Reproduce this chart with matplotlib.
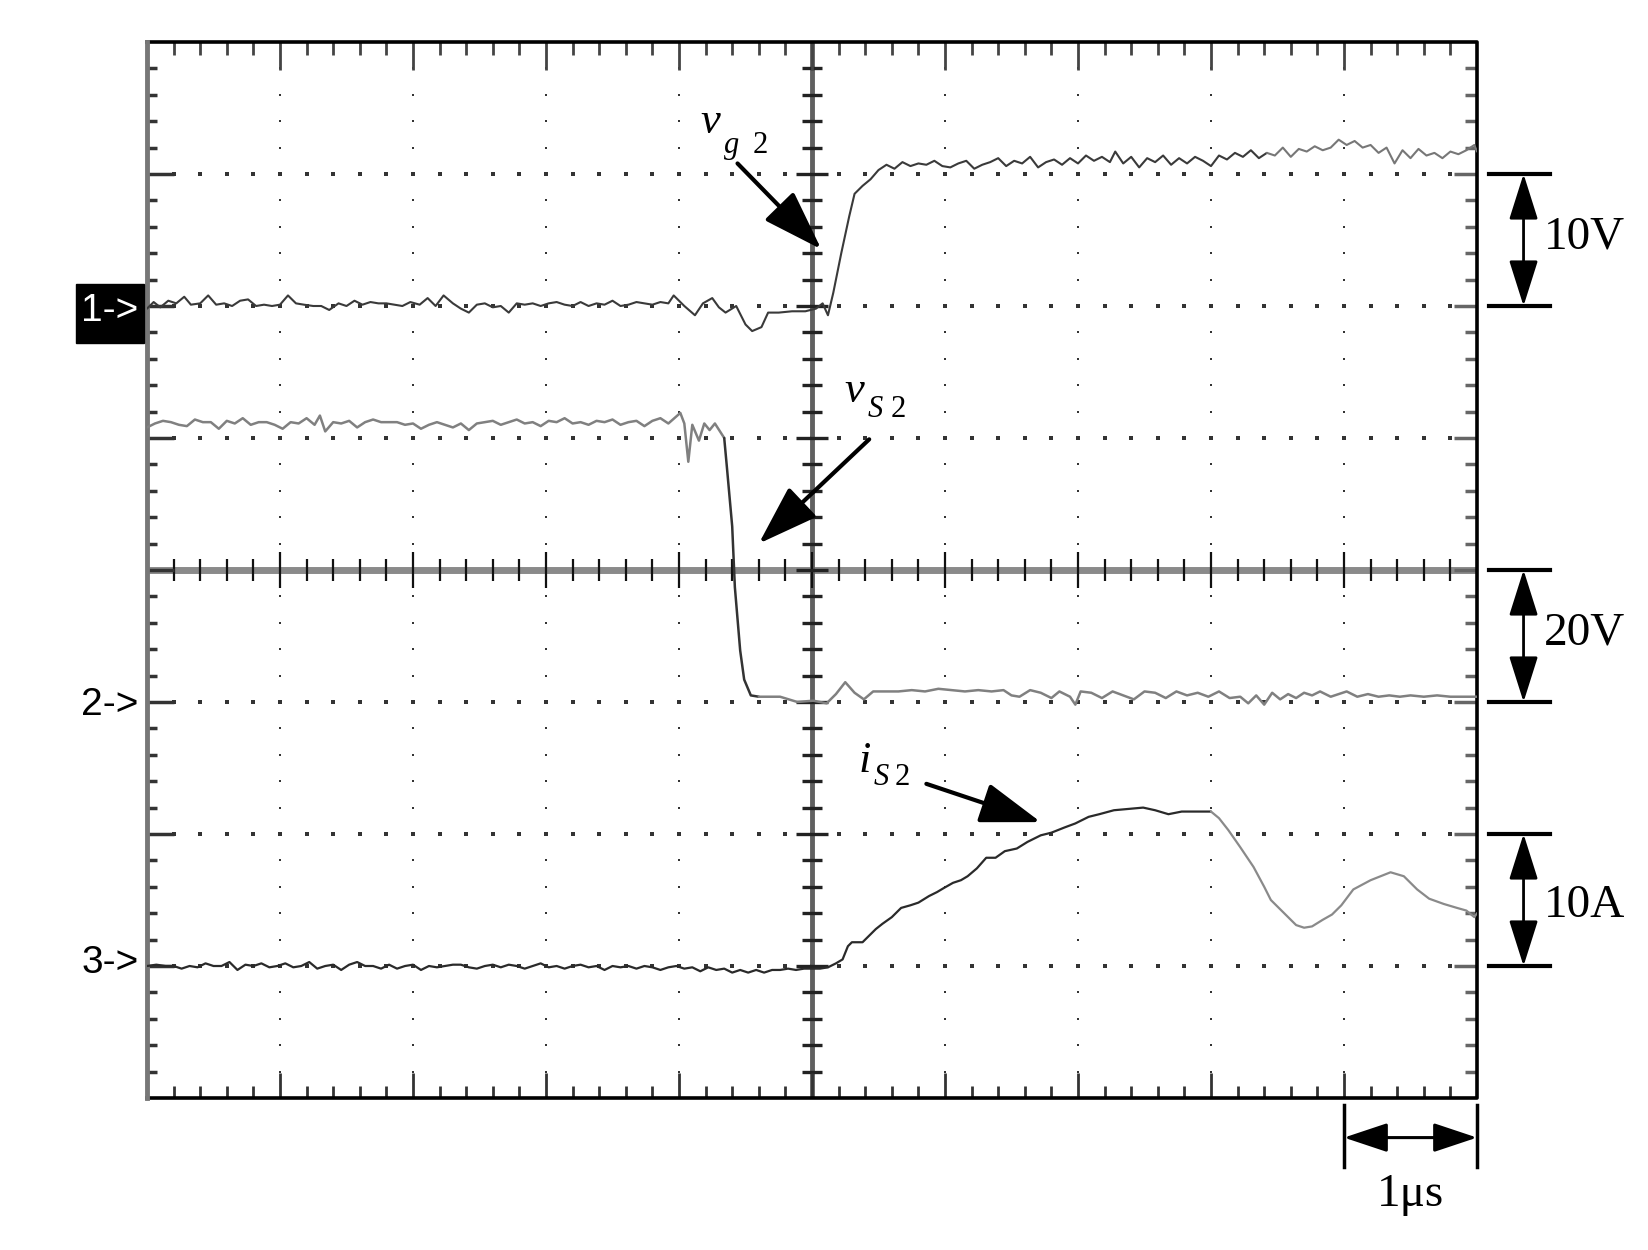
import numpy as np
import matplotlib
matplotlib.use("Agg")
import matplotlib.pyplot as plt
from matplotlib.patches import Rectangle

# scope screen is 10 x 8 divisions, values below are in divisions
# channel 1: gate voltage vg2
vg2_t = [0.00, 0.05, 0.10, 0.16, 0.22, 0.28, 0.33, 0.40, 0.46, 0.52, 0.58, 0.64, 0.70, 0.76, 0.82,
         0.88, 0.94, 1.00, 1.06, 1.12, 1.18, 1.25, 1.31, 1.37, 1.44, 1.50, 1.56, 1.62, 1.68, 1.74,
         1.80, 1.86, 1.92, 1.98, 2.05, 2.11, 2.17, 2.23, 2.30, 2.36, 2.42, 2.48, 2.54, 2.60, 2.66,
         2.72, 2.78, 2.84, 2.90, 2.96, 3.02, 3.08, 3.14, 3.20, 3.26, 3.32, 3.38, 3.44, 3.50, 3.56,
         3.62, 3.68, 3.74, 3.80, 3.86, 3.92, 3.96, 4.04, 4.12, 4.18, 4.25, 4.30, 4.35, 4.43, 4.50,
         4.55, 4.62, 4.67, 4.75, 4.85, 4.95, 5.03, 5.08, 5.12, 5.16, 5.22, 5.28, 5.32, 5.38, 5.44,
         5.50, 5.56, 5.62, 5.68, 5.74, 5.80, 5.86, 5.92, 5.98, 6.04, 6.10, 6.16, 6.22, 6.28, 6.34,
         6.40, 6.46, 6.52, 6.58, 6.64, 6.70, 6.76, 6.82, 6.88, 6.94, 7.00, 7.06, 7.12, 7.18, 7.24,
         7.28, 7.34, 7.40, 7.46, 7.52, 7.58, 7.64, 7.70, 7.76, 7.82, 7.88, 7.94, 8.00, 8.06, 8.12,
         8.18, 8.24, 8.30, 8.36, 8.42, 8.48, 8.54, 8.60, 8.66, 8.72, 8.78, 8.84, 8.90, 8.96, 9.02,
         9.08, 9.14, 9.20, 9.26, 9.32, 9.38, 9.44, 9.50, 9.56, 9.62, 9.68, 9.74, 9.80, 9.86, 9.92,
         9.98, 10.0]
vg2_v = [5.98, 6.03, 5.99, 6.04, 6.02, 6.07, 6.01, 6.02, 6.08, 6.01, 6.02, 6.00, 6.04, 6.05, 6.00,
         6.01, 6.00, 6.01, 6.08, 6.02, 6.01, 6.00, 6.00, 5.97, 6.02, 6.00, 6.04, 6.01, 6.03, 6.02,
         6.02, 6.01, 6.00, 6.03, 6.01, 6.06, 6.00, 6.08, 6.02, 5.98, 5.95, 6.01, 6.02, 5.99, 6.00,
         5.95, 6.02, 6.01, 6.02, 6.00, 6.02, 6.03, 6.01, 6.00, 6.03, 6.00, 6.02, 6.01, 6.04, 6.00,
         6.01, 6.03, 6.02, 6.01, 6.03, 6.02, 6.08, 6.00, 5.93, 6.02, 6.06, 5.99, 5.95, 6.00, 5.86,
         5.81, 5.84, 5.95, 5.95, 5.96, 5.96, 5.98, 6.02, 5.93, 6.10, 6.40, 6.68, 6.85, 6.91, 6.96,
         7.03, 7.07, 7.04, 7.09, 7.06, 7.08, 7.07, 7.10, 7.06, 7.05, 7.08, 7.10, 7.04, 7.07, 7.09,
         7.12, 7.06, 7.10, 7.08, 7.13, 7.05, 7.09, 7.11, 7.07, 7.12, 7.08, 7.14, 7.10, 7.13, 7.09,
         7.17, 7.08, 7.13, 7.05, 7.12, 7.09, 7.14, 7.07, 7.12, 7.08, 7.13, 7.10, 7.06, 7.14, 7.11,
         7.16, 7.13, 7.18, 7.12, 7.16, 7.14, 7.20, 7.13, 7.19, 7.17, 7.21, 7.18, 7.20, 7.26, 7.22,
         7.25, 7.20, 7.22, 7.16, 7.20, 7.08, 7.18, 7.12, 7.19, 7.14, 7.16, 7.12, 7.17, 7.15, 7.18,
         7.22, 7.17]

# channel 2: drain-source voltage vs2
vs2_t = [0.00, 0.06, 0.12, 0.18, 0.24, 0.30, 0.36, 0.42, 0.48, 0.54, 0.60, 0.66, 0.72, 0.78, 0.84,
         0.90, 0.96, 1.02, 1.08, 1.14, 1.20, 1.26, 1.30, 1.34, 1.40, 1.46, 1.52, 1.58, 1.64, 1.70,
         1.76, 1.82, 1.88, 1.94, 2.00, 2.06, 2.12, 2.18, 2.24, 2.30, 2.36, 2.42, 2.48, 2.54, 2.60,
         2.66, 2.72, 2.78, 2.84, 2.90, 2.96, 3.02, 3.08, 3.14, 3.20, 3.26, 3.32, 3.38, 3.44, 3.50,
         3.56, 3.62, 3.68, 3.74, 3.80, 3.86, 3.92, 4.01, 4.04, 4.07, 4.10, 4.15, 4.19, 4.23, 4.27,
         4.34, 4.36, 4.40, 4.42, 4.46, 4.49, 4.54, 4.60, 4.76, 4.89, 5.01, 5.11, 5.18, 5.25, 5.32,
         5.39, 5.46, 5.55, 5.65, 5.75, 5.85, 5.95, 6.05, 6.15, 6.25, 6.35, 6.44, 6.50, 6.56, 6.64,
         6.72, 6.80, 6.86, 6.94, 6.98, 7.02, 7.10, 7.18, 7.26, 7.34, 7.42, 7.50, 7.58, 7.66, 7.74,
         7.82, 7.90, 7.98, 8.06, 8.14, 8.22, 8.28, 8.34, 8.40, 8.46, 8.52, 8.58, 8.64, 8.70, 8.76,
         8.82, 8.90, 8.96, 9.02, 9.10, 9.18, 9.26, 9.34, 9.42, 9.50, 9.60, 9.70, 9.80, 9.90, 10.0]
vs2_v = [5.08, 5.11, 5.13, 5.12, 5.10, 5.09, 5.14, 5.12, 5.12, 5.07, 5.13, 5.11, 5.15, 5.10, 5.12,
         5.12, 5.10, 5.07, 5.12, 5.11, 5.15, 5.10, 5.17, 5.05, 5.12, 5.11, 5.13, 5.08, 5.12, 5.14,
         5.12, 5.12, 5.12, 5.10, 5.11, 5.07, 5.10, 5.12, 5.10, 5.08, 5.11, 5.06, 5.11, 5.12, 5.13,
         5.10, 5.12, 5.14, 5.11, 5.12, 5.09, 5.13, 5.12, 5.15, 5.11, 5.12, 5.10, 5.13, 5.12, 5.14,
         5.10, 5.12, 5.13, 5.09, 5.13, 5.15, 5.11, 5.19, 5.11, 4.82, 5.10, 4.98, 5.11, 5.06, 5.11,
         5.00, 4.78, 4.33, 3.87, 3.39, 3.17, 3.05, 3.04, 3.04, 3.00, 3.01, 2.99, 3.06, 3.15, 3.07,
         3.02, 3.08, 3.08, 3.08, 3.09, 3.08, 3.10, 3.09, 3.08, 3.09, 3.08, 3.09, 3.05, 3.04, 3.09,
         3.07, 3.03, 3.08, 3.04, 2.98, 3.08, 3.07, 3.03, 3.08, 3.05, 3.02, 3.08, 3.07, 3.03, 3.08,
         3.05, 3.07, 3.04, 3.08, 3.03, 3.04, 2.99, 3.05, 2.98, 3.07, 3.02, 3.06, 3.03, 3.07, 3.05,
         3.08, 3.04, 3.06, 3.08, 3.04, 3.06, 3.04, 3.05, 3.04, 3.05, 3.04, 3.05, 3.04, 3.04, 3.04]

# channel 3: switch current is2
is2_t = [0.00, 0.07, 0.14, 0.20, 0.26, 0.32, 0.38, 0.44, 0.50, 0.56, 0.62, 0.68, 0.74, 0.80, 0.86,
         0.92, 0.98, 1.04, 1.10, 1.16, 1.22, 1.28, 1.34, 1.40, 1.46, 1.52, 1.58, 1.64, 1.70, 1.76,
         1.82, 1.88, 1.94, 2.00, 2.06, 2.12, 2.18, 2.24, 2.30, 2.36, 2.42, 2.48, 2.54, 2.60, 2.66,
         2.72, 2.78, 2.84, 2.90, 2.96, 3.02, 3.08, 3.14, 3.20, 3.26, 3.32, 3.38, 3.44, 3.50, 3.56,
         3.62, 3.68, 3.74, 3.80, 3.86, 3.92, 3.98, 4.04, 4.10, 4.16, 4.22, 4.28, 4.34, 4.40, 4.46,
         4.52, 4.58, 4.64, 4.70, 4.76, 4.82, 4.88, 4.94, 5.00, 5.06, 5.12, 5.18, 5.23, 5.27, 5.30,
         5.38, 5.44, 5.48, 5.53, 5.60, 5.67, 5.74, 5.80, 5.88, 5.94, 5.99, 6.06, 6.12, 6.17, 6.24,
         6.31, 6.38, 6.45, 6.54, 6.62, 6.72, 6.80, 6.90, 6.98, 7.08, 7.16, 7.27, 7.38, 7.49, 7.58,
         7.68, 7.78, 7.90, 8.00, 8.06, 8.13, 8.22, 8.32, 8.40, 8.45, 8.55, 8.64, 8.70, 8.76, 8.84,
         8.91, 8.98, 9.07, 9.20, 9.35, 9.45, 9.55, 9.64, 9.75, 9.85, 9.92, 9.98, 10.0]
is2_v = [1.00, 1.01, 1.00, 1.00, 0.98, 1.00, 0.99, 1.02, 1.00, 1.00, 1.03, 0.97, 1.01, 1.00, 1.02,
         0.99, 1.00, 1.02, 0.99, 1.00, 1.03, 0.98, 1.00, 1.01, 0.97, 1.01, 1.03, 1.00, 1.00, 0.98,
         1.01, 0.98, 1.00, 1.01, 0.97, 1.00, 0.99, 1.00, 1.01, 1.01, 0.99, 0.98, 1.00, 1.01, 0.99,
         1.01, 1.00, 0.98, 1.00, 1.02, 0.99, 1.00, 0.98, 1.00, 1.01, 0.99, 1.00, 0.97, 1.00, 0.99,
         1.00, 0.98, 1.00, 0.99, 0.97, 0.99, 1.00, 0.98, 0.99, 0.96, 0.99, 0.97, 0.98, 0.95, 0.97,
         0.95, 0.97, 0.95, 0.97, 0.97, 0.98, 0.97, 0.98, 0.98, 0.98, 0.99, 1.02, 1.05, 1.15, 1.18,
         1.18, 1.24, 1.28, 1.32, 1.37, 1.44, 1.46, 1.48, 1.53, 1.56, 1.59, 1.63, 1.65, 1.68, 1.74,
         1.82, 1.82, 1.87, 1.89, 1.94, 1.99, 2.01, 2.05, 2.08, 2.13, 2.15, 2.18, 2.19, 2.20, 2.18,
         2.15, 2.17, 2.17, 2.17, 2.12, 2.03, 1.90, 1.75, 1.60, 1.50, 1.40, 1.31, 1.29, 1.30, 1.35,
         1.39, 1.46, 1.58, 1.65, 1.71, 1.68, 1.58, 1.51, 1.47, 1.44, 1.42, 1.37, 1.40]

channel_marks = ["1->", "2->", "3->"]
channel_levels = [5.96, 2.98, 1.02]
scale_labels = ["10V", "20V", "10A"]
scale_spans = [(6, 7), (3, 4), (1, 2)]
time_label = "1\u03bcs"

SERIF = "Liberation Serif"
NARROW = ["Liberation Sans Narrow", "Liberation Sans", "DejaVu Sans"]


def plot_trace(ax, t, v, cuts, colors, lw=1.5):
    # draw a trace in pieces so parts can have a different grey;
    # neighbouring pieces share one sample so there is no gap
    t = np.asarray(t)
    v = np.asarray(v)
    idx = [0] + [int(np.searchsorted(t, c)) for c in cuts] + [len(t) - 1]
    for i, c in enumerate(colors):
        a, b = idx[i], idx[i + 1] + 1
        ax.plot(t[a:b], v[a:b], color=c, lw=lw, solid_joinstyle="round",
                solid_capstyle="round", zorder=5)


def scale_bar(ax, y0, y1, label, label_y):
    for y in (y0, y1):
        ax.plot([10.09, 10.55], [y, y], color="k", lw=3, clip_on=False)
    ax.annotate("", xy=(10.35, y1), xytext=(10.35, y0), annotation_clip=False,
                arrowprops=dict(arrowstyle="<|-|>,head_length=0.95,head_width=0.3",
                                color="k", lw=2, mutation_scale=30, shrinkA=0, shrinkB=0))
    ax.text(10.5, label_y, label, fontsize=34, family=SERIF, ha="left", va="center",
            clip_on=False)


def pointer(ax, tail, tip):
    ax.annotate("", xy=tip, xytext=tail, annotation_clip=False,
                arrowprops=dict(arrowstyle="-|>,head_length=1.25,head_width=0.42",
                                color="k", lw=3, mutation_scale=30, shrinkA=0, shrinkB=0))


fig = plt.figure(figsize=(16.48, 12.5), dpi=100)
ax = fig.add_axes([147 / 1648, 152 / 1250, 1330 / 1648, 1056 / 1250])
ax.set_xlim(0, 10)
ax.set_ylim(0, 8)
ax.axis("off")

# dotted graticule
xs = np.arange(1, 50) * 0.2
ys = np.arange(1, 40) * 0.2
for gx in [1, 2, 3, 4, 6, 7, 8, 9]:
    ax.plot([gx] * len(ys), ys, ls="none", marker="s", ms=2.0, color="#333", mew=0)
for gy in [1, 2, 3, 5, 6, 7]:
    ax.plot(xs, [gy] * len(xs), ls="none", marker="s", ms=2.2, color="#333", mew=0)

# centre cross with its ticks
ax.plot([0, 10], [4, 4], color="#8a8a8a", lw=5, zorder=2)
ax.plot([5, 5], [0, 8], color="#606060", lw=3.5, zorder=2)
major_x = np.isclose(xs % 1, 0) | np.isclose(xs % 1, 1)
major_y = np.isclose(ys % 1, 0) | np.isclose(ys % 1, 1)
hx = np.where(major_x, 0.14, 0.085)
ax.vlines(xs, 4 - hx, 4 + hx, color="#111", lw=1.6, zorder=3)
hy = np.where(major_y, 0.12, 0.075)
ax.hlines(ys, 5 - hy, 5 + hy, color="#222", lw=2.4, zorder=3)

# border ticks
ax.vlines(xs, 8 - np.where(major_x, 0.21, 0.1), 8, color="#444", lw=2, zorder=3)
ax.vlines(xs, 0, np.where(major_x, 0.19, 0.09), color="#333", lw=2, zorder=3)
ax.hlines(ys, 0, np.where(major_y, 0.2, 0.075), color="#333", lw=2.5, zorder=3)
ax.hlines(ys, 10 - np.where(major_y, 0.17, 0.09), 10, color="#666", lw=2.5, zorder=3)

# frame
ax.plot([0, 10, 10, 0], [8, 8, 0, 0], color="k", lw=2.6, clip_on=False, zorder=4)
ax.plot([0, 0], [0, 8], color="#777", lw=3.5, clip_on=False, zorder=4)

# traces
plot_trace(ax, vg2_t, vg2_v, [8.4], ["#3a3a3a", "#777"])
plot_trace(ax, vs2_t, vs2_v, [4.3, 4.6], ["#808080", "#333", "#808080"], lw=1.8)
plot_trace(ax, is2_t, is2_v, [8.0], ["#2a2a2a", "#8a8a8a"], lw=1.6)

# channel markers
ax.add_patch(Rectangle((-0.534, 5.72), 0.514, 0.45, color="k", clip_on=False, zorder=6))
for mark, lev in zip(channel_marks, channel_levels):
    col = "w" if mark.startswith("1") else "k"
    ax.text(-0.28, lev, mark, color=col, fontsize=28, family=NARROW, ha="center",
            va="center", clip_on=False, zorder=7)

# amplitude scale bars on the right
for lab, (y0, y1) in zip(scale_labels, scale_spans):
    scale_bar(ax, y0, y1, lab, (y0 + y1) / 2 - (0.04 if lab == "10A" else -0.02))

# time scale bracket below
for x in (9, 10):
    ax.plot([x, x], [-0.05, -0.52], color="k", lw=2.5, clip_on=False)
ax.annotate("", xy=(10, -0.3), xytext=(9, -0.3), annotation_clip=False,
            arrowprops=dict(arrowstyle="<|-|>,head_length=0.9,head_width=0.3",
                            color="k", lw=2.2, mutation_scale=30, shrinkA=0, shrinkB=0))
ax.text(9.5, -0.73, time_label, fontsize=34, family=SERIF, ha="center", va="center",
        clip_on=False)

# trace names with pointers
ax.text(4.16, 7.31, "v", fontsize=32, family=SERIF, style="italic", va="baseline")
ax.text(4.34, 7.16, "g", fontsize=22, family=SERIF, style="italic", va="baseline")
ax.text(4.55, 7.16, "2", fontsize=22, family=SERIF, va="baseline")
pointer(ax, (4.44, 7.08), (5.07, 6.43))

ax.text(5.24, 5.27, "v", fontsize=32, family=SERIF, style="italic", va="baseline")
ax.text(5.42, 5.16, "S", fontsize=22, family=SERIF, style="italic", va="baseline")
ax.text(5.59, 5.16, "2", fontsize=22, family=SERIF, va="baseline")
pointer(ax, (5.43, 4.99), (4.60, 4.20))

ax.text(5.35, 2.47, "i", fontsize=32, family=SERIF, style="italic", va="baseline")
ax.text(5.46, 2.37, "S", fontsize=22, family=SERIF, style="italic", va="baseline")
ax.text(5.62, 2.37, "2", fontsize=22, family=SERIF, va="baseline")
pointer(ax, (5.86, 2.38), (6.72, 2.09))

fig.savefig("out.png", dpi=100, facecolor="white")
